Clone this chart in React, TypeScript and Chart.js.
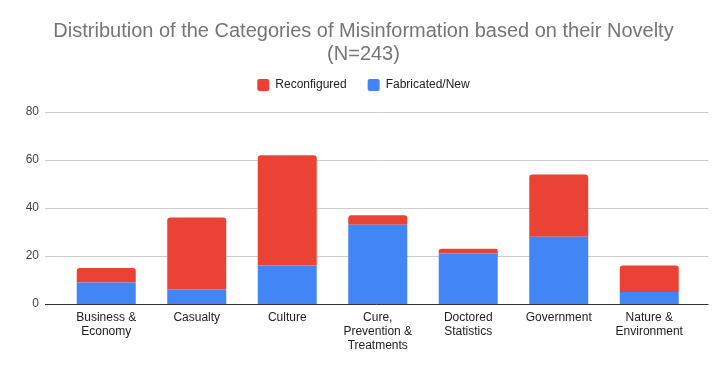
import React, { useEffect, useRef } from "react";
import { Chart, registerables } from "chart.js";

Chart.register(...registerables);

const categories: (string | string[])[] = [
  ["Business &", "Economy"],
  "Casualty",
  "Culture",
  ["Cure,", "Prevention &", "Treatments"],
  ["Doctored", "Statistics"],
  "Government",
  ["Nature &", "Environment"],
];
const fabricatedNew = [9, 6, 16, 33, 21, 28, 5];
const reconfigured = [6, 30, 46, 4, 2, 26, 11];
const yTicks = [0, 20, 40, 60, 80];
const titleLines = [
  "Distribution of the Categories of Misinformation based on their Novelty",
  "(N=243)",
];

const FONT = "Arial, 'Liberation Sans', sans-serif";

const gridPlugin = {
  id: "extGrid",
  beforeDatasetsDraw(chart: any) {
    const { ctx, chartArea } = chart;
    const y = chart.scales.y;
    const left = chartArea.left - 16;
    const right = chartArea.right + 14;
    ctx.save();
    y.ticks.forEach((t: any) => {
      if (t.value === 0) return;
      const py = Math.round(y.getPixelForValue(t.value)) + 0.5;
      ctx.beginPath();
      ctx.strokeStyle = "#cccccc";
      ctx.lineWidth = 1;
      ctx.moveTo(left, py);
      ctx.lineTo(right, py);
      ctx.stroke();
    });
    ctx.restore();
  },
  afterDatasetsDraw(chart: any) {
    const { ctx, chartArea } = chart;
    const y = chart.scales.y;
    const py = Math.round(y.getPixelForValue(0)) + 0.5;
    ctx.save();
    ctx.beginPath();
    ctx.strokeStyle = "#333333";
    ctx.lineWidth = 1;
    ctx.moveTo(chartArea.left - 16, py);
    ctx.lineTo(chartArea.right + 14, py);
    ctx.stroke();
    ctx.restore();
  },
};

export default function App() {
  const ref = useRef<HTMLCanvasElement>(null);
  useEffect(() => {
    if (!ref.current) return;
    const chart = new Chart(ref.current, {
      type: "bar",
      data: {
        labels: categories,
        datasets: [
          {
            label: "Fabricated/New",
            data: fabricatedNew,
            backgroundColor: "#4285F4",
            borderWidth: 0,
            barPercentage: 0.652,
            categoryPercentage: 1,
          },
          {
            label: "Reconfigured",
            data: reconfigured,
            backgroundColor: "#EA4335",
            borderWidth: 0,
            borderRadius: { topLeft: 3, topRight: 3, bottomLeft: 0, bottomRight: 0 },
            borderSkipped: false,
            barPercentage: 0.652,
            categoryPercentage: 1,
          },
        ],
      },
      options: {
        responsive: false,
        animation: false,
        layout: { padding: { left: 0, right: 0, top: 0, bottom: 0 } },
        plugins: {
          title: {
            display: true,
            text: titleLines,
            color: "#757575",
            font: { family: FONT, size: 20, weight: "normal", lineHeight: 1.18 },
            padding: { top: 19.2, bottom: -8.4 },
          },
          legend: {
            display: true,
            reverse: true,
            labels: {
              boxWidth: 12,
              boxHeight: 12,
              padding: 21,
              color: "#222222",
              useBorderRadius: true,
              borderRadius: 2,
              font: { family: FONT, size: 12 },
            },
          },
          tooltip: { enabled: false },
        },
        scales: {
          x: {
            stacked: true,
            grid: { display: false, drawTicks: false },
            border: { display: false },
            ticks: {
              color: "#222222",
              font: { family: FONT, size: 12, lineHeight: 1.15 },
              padding: 7,
              maxRotation: 0,
              autoSkip: false,
            },
            afterFit(scale: any) {
              scale.height = 67;
            },
          },
          xTopSpacer: {
            type: "category",
            position: "top",
            display: true,
            grid: { display: false, drawTicks: false },
            border: { display: false },
            ticks: { display: false },
            afterFit(scale: any) {
              scale.height = 11;
            },
          },
          y: {
            stacked: true,
            min: 0,
            max: 80,
            grid: { display: false, drawTicks: false },
            border: { display: false },
            afterBuildTicks(scale: any) {
              scale.ticks = yTicks.map((v) => ({ value: v }));
            },
            ticks: {
              color: "#444444",
              font: { family: FONT, size: 12 },
              padding: 22,
            },
            afterFit(scale: any) {
              scale.width = 61;
            },
          },
          yRightSpacer: {
            type: "linear",
            position: "right",
            display: true,
            min: 0,
            max: 80,
            grid: { display: false, drawTicks: false },
            border: { display: false },
            ticks: { display: false },
            afterFit(scale: any) {
              scale.width = 32.5;
            },
          },
        },
      },
      plugins: [gridPlugin],
    });
    return () => chart.destroy();
  }, []);
  return (
    <div style={{ position: "absolute", left: 0, top: 0, width: 727, height: 371, background: "#fff" }}>
      <canvas ref={ref} width={727} height={371} style={{ display: "block" }} />
    </div>
  );
}
